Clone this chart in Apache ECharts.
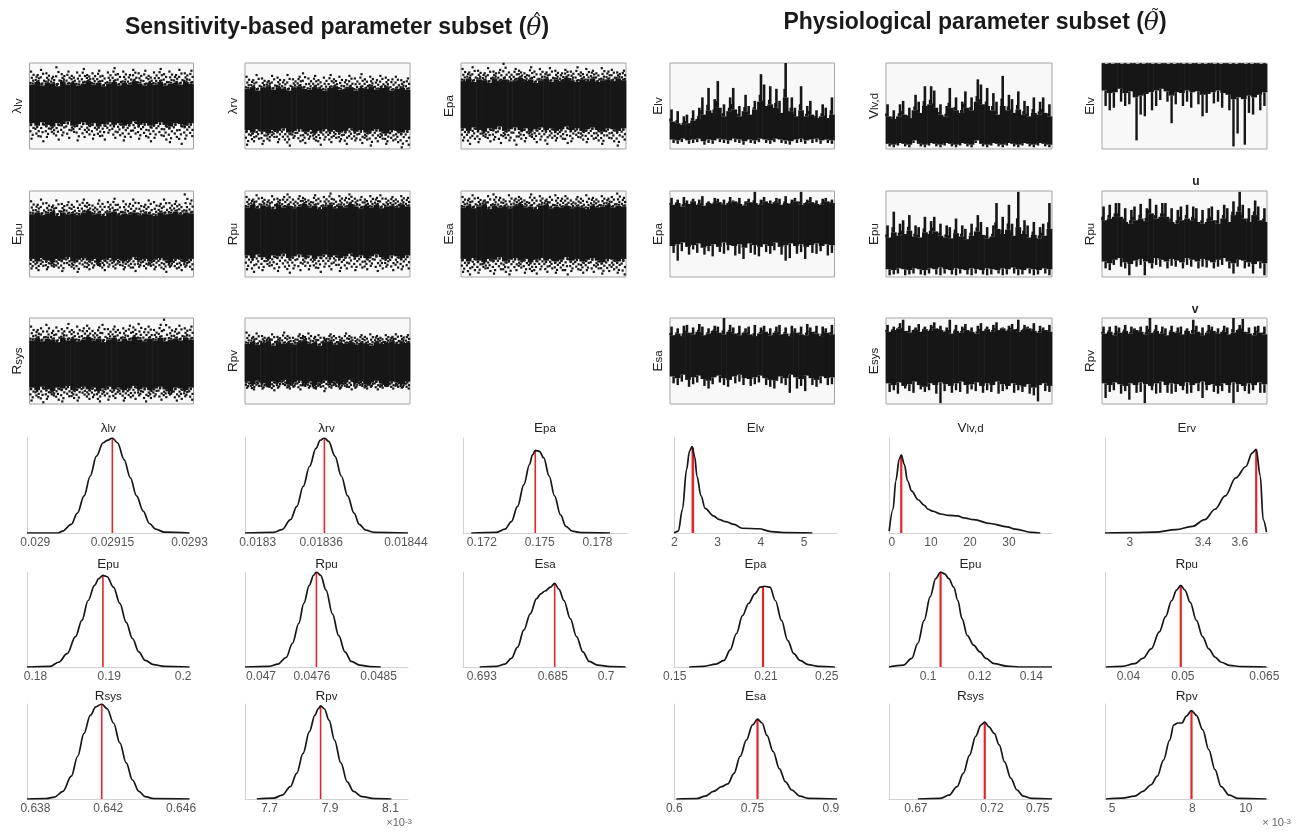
<!DOCTYPE html>
<html><head><meta charset="utf-8">
<script src="https://cdn.jsdelivr.net/npm/echarts@6/dist/echarts.min.js"></script>
<style>html,body{margin:0;padding:0;background:#fff}#c{width:1307px;height:832px}</style>
</head><body><div id="c"></div>
<script>
// ================= DATA =================
// MCMC trace envelopes, 32 bins each, % of panel height: [coreLo, coreHi, outLo, outHi]
const trLamLv = [
 [30,27,31,28,26,30,29,32,27,29,31,28,30,26,29,31,28,30,27,29,32,28,30,27,29,31,28,26,30,29,27,30],
 [75,78,74,77,76,73,78,75,77,74,76,79,75,77,73,76,78,74,77,75,79,76,74,77,75,78,74,76,77,75,78,76],
 [12,15,9,14,18,11,16,13,20,10,14,17,12,15,11,19,13,16,10,14,18,12,15,9,13,16,11,8,14,6,12,15],
 [90,86,92,88,84,95,87,90,85,89,93,86,88,91,85,89,94,87,90,86,92,88,91,85,89,93,87,90,86,92,88,91]];
const trLamRv = [
 [22,19,23,20,18,22,21,24,19,21,23,20,22,18,21,23,20,22,19,21,24,20,22,19,21,23,20,18,22,21,19,22],
 [70,72,68,71,73,69,72,70,68,71,73,70,69,72,70,68,71,73,69,70,72,68,71,70,73,69,71,72,68,70,71,69],
 [5,9,12,6,10,14,8,11,4,13,9,7,12,10,5,11,8,13,9,6,12,10,7,11,4,9,12,6,10,8,2,5],
 [84,80,86,82,79,85,83,80,86,81,84,88,82,85,80,83,86,81,84,80,85,82,87,81,84,80,85,83,81,84,80,82]];
const trEpaL = [
 [24,21,25,22,20,24,23,26,21,23,25,22,24,20,23,25,22,24,21,23,26,22,24,21,23,25,22,20,24,23,21,24],
 [79,82,78,81,80,77,82,79,81,78,80,83,79,81,77,80,82,78,81,79,83,80,78,81,79,82,78,80,81,79,82,80],
 [10,6,12,8,14,9,11,7,13,10,5,12,9,14,8,11,6,13,10,12,7,9,14,11,8,12,10,6,13,9,4,11],
 [93,89,95,91,88,94,90,92,99,89,93,91,88,95,90,93,89,94,91,88,92,90,95,89,93,91,88,94,90,92,89,91]];
const trEpuL = [
 [21,18,22,19,17,21,20,23,18,20,22,19,21,17,20,22,19,21,18,20,23,19,21,18,20,22,19,17,21,20,18,21],
 [73,75,72,74,76,71,75,73,74,72,75,77,73,74,71,75,76,72,74,73,75,72,74,73,71,75,73,74,76,73,75,74],
 [10,8,13,9,12,11,7,14,10,6,12,9,11,13,8,12,10,14,9,11,7,12,10,13,9,11,6,12,10,8,12,9],
 [88,84,90,86,83,89,85,87,84,88,90,86,83,89,85,87,91,84,88,85,90,86,84,89,87,85,90,86,88,84,96,89]];
const trRpuL = [
 [25,22,26,23,21,25,24,27,22,24,26,23,25,21,24,26,23,25,22,24,27,23,25,22,24,26,23,21,25,24,22,25],
 [81,84,80,83,82,79,84,81,83,80,82,85,81,83,79,82,84,80,83,81,85,82,80,83,81,84,80,82,83,81,84,82],
 [9,6,11,8,13,10,7,12,5,10,8,13,9,11,6,12,9,14,7,10,12,8,11,9,13,7,10,12,8,11,9,10],
 [93,90,95,92,89,94,91,93,96,90,94,92,89,95,91,93,97,90,94,92,96,91,93,90,94,92,95,91,93,90,94,92]];
const trEsaL = [
 [21,18,22,19,17,21,20,23,18,20,22,19,21,17,20,22,19,21,18,20,23,19,21,18,20,22,19,17,21,20,18,21],
 [81,83,80,82,84,79,83,81,82,80,83,85,81,82,79,83,84,80,82,81,83,80,82,81,79,83,81,82,84,81,83,82],
 [6,3,8,5,10,7,4,9,6,3,8,11,5,7,4,9,6,10,5,8,3,7,9,5,8,6,10,4,7,9,5,3],
 [93,91,95,92,89,94,96,92,90,95,91,93,89,96,92,94,90,93,95,91,94,89,93,91,95,92,90,94,91,93,97,92]];
const trRsysL = [
 [19,16,20,17,15,19,18,21,16,18,20,17,19,15,18,20,17,19,16,18,21,17,19,16,18,20,17,15,19,18,16,19],
 [74,77,73,76,75,72,77,74,76,73,75,78,74,76,72,75,77,73,76,74,78,75,73,76,74,77,73,75,76,74,77,75],
 [4,8,2,6,10,5,3,9,7,4,11,6,8,3,10,5,7,12,4,8,6,10,3,7,9,5,8,11,4,6,9,5],
 [90,86,88,92,85,89,87,93,86,90,88,91,85,89,92,87,90,86,88,91,89,93,87,90,86,92,98,89,87,91,88,90]];
const trRpvL = [
 [26,23,27,24,22,26,25,28,23,25,27,24,26,22,25,27,24,26,23,25,28,24,26,23,25,27,24,22,26,25,23,26],
 [70,72,69,71,73,68,72,70,71,69,72,74,70,71,68,72,73,69,71,70,72,69,71,70,68,72,70,71,73,70,72,71],
 [19,17,21,18,20,16,19,22,18,20,17,21,19,18,20,15,19,21,18,20,17,19,21,18,20,17,19,21,18,20,19,18],
 [83,78,82,79,77,81,78,83,79,77,81,79,82,78,80,77,81,79,78,82,79,77,80,78,81,79,77,80,78,81,79,80]];
const trElv = [
 [11,10,12,10,11,12,9,11,10,12,11,10,12,11,9,11,10,12,11,10,12,11,10,9,11,12,10,11,12,10,11,10],
 [32,30,28,30,33,35,40,45,42,48,38,44,46,38,44,40,46,55,50,52,48,42,60,44,38,45,38,40,36,38,36,40],
 [7,6,8,6,7,8,5,7,6,8,7,6,8,7,5,7,6,8,7,6,8,7,6,5,7,8,6,7,8,6,7,6],
 [46,44,38,40,45,48,60,71,58,79,52,60,71,50,63,50,56,87,75,73,70,56,100,60,48,73,50,56,45,52,48,60]];
const trVlvd = [
 [6,5,7,6,5,10,6,5,7,6,5,7,6,5,7,6,5,10,6,5,7,6,5,7,6,5,7,6,5,7,6,5],
 [38,35,38,40,36,45,42,50,52,48,40,38,48,45,42,48,45,55,52,50,45,40,50,45,42,46,40,38,42,40,42,38],
 [3,2,4,3,2,7,3,2,4,3,2,4,3,2,4,3,2,7,3,2,4,3,2,4,3,2,4,3,2,4,3,2],
 [52,45,52,56,48,63,55,73,73,68,52,50,71,60,55,67,60,81,75,71,65,55,85,63,58,67,56,50,60,55,60,52]];
const trErv = [
 [68,65,66,70,65,67,60,62,64,66,68,70,67,62,66,65,68,66,67,63,64,66,68,65,63,58,60,58,62,60,63,66],
 [99,99,99,99,99,99,99,99,99,99,99,99,99,99,99,99,99,99,99,99,99,99,99,99,99,99,99,99,99,99,99,99],
 [50,45,48,55,50,52,10,40,38,45,50,57,55,30,52,50,55,48,52,38,42,53,55,48,45,3,18,5,42,40,45,50],
 [100,100,100,100,100,100,100,100,100,100,100,100,100,100,100,100,100,100,100,100,100,100,100,100,100,100,100,100,100,100,100,100]];
const trEpaR = [
 [36,38,40,35,37,39,34,36,38,35,40,37,36,38,34,39,37,35,38,36,40,35,37,39,36,38,35,37,39,36,38,37],
 [84,86,82,85,88,84,83,86,85,87,84,86,88,85,83,87,86,84,88,85,87,84,86,85,88,84,86,87,85,84,88,86],
 [28,19,30,26,32,28,26,30,24,29,27,31,25,27,21,28,26,24,29,27,31,26,19,22,27,29,21,28,27,30,25,28],
 [92,90,93,89,91,90,94,88,92,91,90,93,89,92,88,91,99,90,93,89,92,91,94,90,92,99,90,93,89,91,92,90]];
const trEpuR = [
 [9,8,10,9,8,10,9,8,10,9,11,9,8,10,9,8,10,9,8,10,9,8,10,9,11,9,8,10,9,8,10,9],
 [46,52,48,50,54,47,46,52,50,53,48,46,45,51,47,44,48,53,49,45,47,56,50,55,48,58,50,46,49,45,48,56],
 [2,3,4,2,3,4,3,2,4,3,2,4,3,2,4,3,2,4,3,2,3,4,2,3,4,2,3,4,2,3,4,2],
 [60,76,62,66,72,60,58,70,65,70,62,60,58,68,60,56,62,72,64,58,60,86,70,84,62,99,66,60,64,58,62,86]];
const trRpuR = [
 [18,16,20,22,17,15,19,21,18,16,22,20,18,21,19,17,22,20,18,21,19,17,20,22,18,16,20,19,17,15,18,16],
 [66,68,70,70,64,62,66,68,65,74,68,70,70,64,62,66,68,66,64,62,64,66,62,68,64,72,76,68,64,72,66,64],
 [10,8,14,12,10,2,12,14,2,10,14,12,10,13,12,10,14,12,10,12,11,10,12,14,10,4,12,10,12,4,10,2],
 [82,84,86,86,80,78,82,85,80,91,84,86,86,80,78,82,84,82,80,78,80,82,78,84,80,88,99,84,80,89,82,80]];
const trEsaR = [
 [32,30,34,28,31,33,29,27,31,33,30,28,32,34,30,29,31,33,30,28,27,32,30,34,31,29,33,30,28,32,30,31],
 [80,82,79,83,81,84,80,82,85,83,81,84,82,80,83,81,79,82,84,80,83,81,82,79,83,81,80,84,82,79,83,81],
 [24,22,26,20,23,25,21,18,23,25,22,20,24,26,22,21,23,25,22,20,18,24,22,13,18,21,15,22,20,24,22,23],
 [90,88,91,92,89,93,90,88,91,90,100,92,89,91,88,90,92,89,91,88,90,92,89,91,88,90,93,89,91,90,88,92]];
const trEsysR = [
 [24,22,25,21,23,26,22,20,24,22,25,23,21,24,26,22,23,25,21,24,22,26,23,21,24,22,20,23,19,22,24,21],
 [84,86,88,85,83,86,84,87,85,88,86,84,82,85,83,86,84,82,85,87,84,86,88,85,87,84,86,88,85,83,86,84],
 [14,16,12,18,15,13,17,14,16,12,1,15,13,16,14,12,17,15,13,16,14,12,15,17,13,16,14,12,10,3,15,14],
 [92,90,94,98,91,89,93,90,92,95,91,89,98,92,90,93,89,91,94,90,92,95,89,91,93,98,92,90,94,91,89,92]];
const trRpvR = [
 [24,22,25,23,21,24,22,25,23,21,24,26,22,24,23,21,25,22,24,26,22,23,21,24,22,25,23,21,24,22,25,23],
 [82,84,80,83,85,82,86,84,81,83,85,82,80,84,83,81,85,82,84,80,83,85,82,84,81,83,86,84,82,80,83,81],
 [7,14,16,12,15,5,13,14,1,16,12,13,13,12,14,16,12,13,15,7,16,14,12,15,13,1,14,15,12,16,13,13],
 [90,90,91,89,92,90,88,90,91,100,92,90,88,91,89,90,88,98,91,89,92,90,88,91,89,100,92,99,89,90,91,90]];

// Marginal posterior densities (x values, relative density)
const dLamLv_x = [0.028984,0.029045,0.029053,0.029070,0.029082,0.029095,0.029107,0.029119,0.029132,0.029140,0.029150,0.029160,0.029173,0.029185,0.029197,0.029210,0.029222,0.029234,0.029251,0.0293];
const dLamLv_y = [0,0,0.02,0.09,0.21,0.39,0.6,0.81,0.95,0.975,1.0,0.95,0.77,0.58,0.39,0.23,0.1,0.04,0.01,0];
const dLamRv_x = [0.018288,0.018315,0.018323,0.018331,0.018337,0.018343,0.018349,0.018355,0.018359,0.018363,0.018367,0.018373,0.018379,0.018385,0.018391,0.018396,0.018402,0.018410,0.018442];
const dLamRv_y = [0,0.007,0.035,0.14,0.28,0.49,0.7,0.89,0.975,1.0,0.965,0.81,0.6,0.39,0.21,0.09,0.03,0.007,0];
const dEpaL_x = [0.17145,0.17276,0.17320,0.17353,0.17385,0.17418,0.17447,0.17462,0.17477,0.17499,0.17521,0.17549,0.17577,0.17608,0.17636,0.17669,0.17713,0.17865];
const dEpaL_y = [0,0.007,0.04,0.12,0.28,0.51,0.72,0.82,0.87,0.86,0.79,0.6,0.39,0.19,0.07,0.02,0.004,0];
const dEpuL_x = [0.17886,0.18200,0.18314,0.18429,0.18543,0.18629,0.18714,0.18800,0.18857,0.18914,0.18971,0.19057,0.19143,0.19229,0.19314,0.19400,0.19486,0.19600,0.19743,0.20086];
const dEpuL_y = [0,0.007,0.05,0.14,0.32,0.49,0.7,0.86,0.93,0.965,0.95,0.84,0.67,0.47,0.3,0.16,0.07,0.025,0.007,0];
const dRpuL_x = [0.046796,0.047107,0.047214,0.047321,0.047402,0.047482,0.047546,0.047616,0.047670,0.047707,0.047761,0.047830,0.047911,0.047991,0.048071,0.048152,0.048259,0.048393,0.048527];
const dRpuL_y = [0,0.007,0.03,0.1,0.25,0.46,0.67,0.86,0.965,1.0,0.965,0.81,0.56,0.33,0.16,0.06,0.02,0.004,0];
const dEsaL_x = [0.66441,0.66915,0.67153,0.67331,0.67508,0.67686,0.67864,0.68042,0.68161,0.68280,0.68434,0.68553,0.68671,0.68814,0.68992,0.69169,0.69347,0.69525,0.69763,0.70119,0.7055];
const dEsaL_y = [0,0.007,0.03,0.09,0.21,0.39,0.56,0.72,0.77,0.8,0.84,0.88,0.82,0.7,0.51,0.32,0.16,0.06,0.02,0.004,0];
const dRsysL_x = [0.637536,0.638580,0.639043,0.639507,0.639971,0.640319,0.640667,0.641014,0.641316,0.641641,0.641942,0.642290,0.642638,0.642986,0.643333,0.643681,0.644029,0.644493,0.646464];
const dRsysL_y = [0,0.003,0.02,0.08,0.24,0.45,0.69,0.88,0.97,1.0,0.95,0.8,0.59,0.38,0.2,0.08,0.025,0.004,0];
const dRpvL_x = [7.658,7.714,7.742,7.769,7.790,7.811,7.832,7.850,7.861,7.869,7.881,7.897,7.915,7.936,7.957,7.978,8.006,8.047,8.103];
const dRpvL_y = [0,0.01,0.04,0.13,0.27,0.48,0.71,0.88,0.95,0.98,0.95,0.83,0.62,0.38,0.18,0.08,0.025,0.004,0];
const dElv_x = [2.0,2.095,2.19,2.286,2.352,2.41,2.476,2.524,2.619,2.714,2.905,3.048,3.19,3.381,3.571,3.952,4.238,4.524,5.19];
const dElv_y = [0,0.02,0.25,0.67,0.86,0.91,0.8,0.6,0.39,0.26,0.18,0.14,0.12,0.09,0.05,0.045,0.015,0.005,0];
const dVlvd_x = [-0.7,0.3,1.0,1.9,2.4,3.2,4.0,5.1,6.7,8.3,9.3,10.4,12.5,14.6,16.8,18.3,21,25.2,29.5,31.6,35.8,38];
const dVlvd_y = [0.02,0.25,0.55,0.78,0.82,0.72,0.55,0.44,0.35,0.29,0.25,0.23,0.2,0.185,0.18,0.16,0.14,0.1,0.065,0.04,0.007,0];
const dErv_x = [2.865,3.027,3.139,3.252,3.342,3.409,3.465,3.521,3.578,3.634,3.667,3.690,3.712,3.728,3.746];
const dErv_y = [0,0.005,0.01,0.035,0.07,0.14,0.25,0.39,0.58,0.7,0.84,0.88,0.6,0.14,0.01];
const dEpaR_x = [0.15946,0.16892,0.17703,0.18243,0.18649,0.19054,0.19459,0.19865,0.20270,0.20622,0.20892,0.21270,0.21622,0.22027,0.22432,0.22838,0.23243,0.23784,0.24459,0.25541];
const dEpaR_y = [0,0.007,0.03,0.07,0.18,0.35,0.54,0.67,0.77,0.84,0.85,0.84,0.7,0.49,0.28,0.14,0.07,0.025,0.007,0];
const dEpuR_x = [0.0848,0.0904,0.0936,0.0960,0.0984,0.1008,0.1029,0.1048,0.1064,0.1080,0.1099,0.1115,0.1131,0.1152,0.1176,0.1200,0.1224,0.1256,0.1304,0.1352,0.1480];
const dEpuR_y = [0,0.02,0.09,0.25,0.49,0.74,0.93,1.0,0.98,0.93,0.84,0.7,0.51,0.33,0.23,0.16,0.09,0.035,0.01,0,0];
const dRpuR_x = [0.03583,0.03886,0.04114,0.04265,0.04417,0.04568,0.04682,0.04795,0.04886,0.04962,0.05038,0.05136,0.05250,0.05364,0.05477,0.05591,0.05705,0.05856,0.06083,0.06538];
const dRpuR_y = [0,0.007,0.035,0.09,0.19,0.37,0.53,0.7,0.81,0.86,0.81,0.68,0.49,0.32,0.19,0.105,0.05,0.018,0.003,0];
const dEsaR_x = [0.6039,0.6434,0.6592,0.6750,0.6908,0.7026,0.7145,0.7263,0.7382,0.7500,0.7595,0.7682,0.7776,0.7895,0.8013,0.8132,0.8250,0.8408,0.8566,0.9118];
const dEsaR_y = [0,0.004,0.03,0.08,0.13,0.16,0.27,0.45,0.62,0.78,0.84,0.8,0.67,0.5,0.32,0.18,0.095,0.03,0.007,0];
const dRsysR_x = [0.67136,0.68626,0.69168,0.69710,0.70117,0.70523,0.70930,0.71282,0.71526,0.71797,0.72149,0.72474,0.72827,0.73233,0.73640,0.74046,0.74588,0.75943];
const dRsysR_y = [0,0.007,0.04,0.13,0.27,0.46,0.66,0.78,0.81,0.76,0.69,0.57,0.39,0.22,0.095,0.03,0.007,0];
const dRpvR_x = [4.769,5.385,5.846,6.154,6.462,6.692,6.923,7.154,7.308,7.462,7.615,7.769,7.969,8.154,8.385,8.615,8.846,9.077,9.385,9.692,10.769];
const dRpvR_y = [0,0.01,0.03,0.08,0.15,0.24,0.41,0.62,0.78,0.8,0.8,0.87,0.93,0.88,0.73,0.52,0.31,0.13,0.04,0.007,0];

// MAP estimates (red lines): [value, density at value]
const mapLamLv = [0.02915, 1.0], mapLamRv = [0.018363, 1.0], mapEpaL = [0.17477, 0.87];
const mapEpuL = [0.18914, 0.965], mapRpuL = [0.047707, 1.0], mapEsaL = [0.68553, 0.88];
const mapRsysL = [0.641641, 1.0], mapRpvL = [7.869, 0.98];
const mapElv = [2.43, 0.9], mapVlvd = [2.4, 0.82], mapErv = [3.69, 0.88];
const mapEpaR = [0.2081, 0.85], mapEpuR = [0.1048, 1.0], mapRpuR = [0.04962, 0.86];
const mapEsaR = [0.7595, 0.84], mapRsysR = [0.71526, 0.81], mapRpvR = [7.969, 0.93];

// Tick values and tick labels
const tkLamLv = [0.029, 0.02915, 0.0293], lbLamLv = ['0.029', '0.02915', '0.0293'];
const tkLamRv = [0.0183, 0.01836, 0.01844], lbLamRv = ['0.0183', '0.01836', '0.01844'];
const tkEpaL = [0.172, 0.175, 0.178], lbEpaL = ['0.172', '0.175', '0.178'];
const tkEpuL = [0.18, 0.19, 0.2], lbEpuL = ['0.18', '0.19', '0.2'];
const tkRpuL = [0.047, 0.04765, 0.0485], lbRpuL = ['0.047', '0.0476', '0.0485'];
const tkEsaL = [0.665, 0.685, 0.7], lbEsaL = ['0.693', '0.685', '0.7'];
const tkRsysL = [0.638, 0.642, 0.646], lbRsysL = ['0.638', '0.642', '0.646'];
const tkRpvL = [7.7, 7.9, 8.1], lbRpvL = ['7.7', '7.9', '8.1'];
const tkElv = [2, 3, 4, 5], lbElv = ['2', '3', '4', '5'];
const tkVlvd = [0, 10, 20, 30], lbVlvd = ['0', '10', '20', '30'];
const tkErv = [3, 3.4, 3.6], lbErv = ['3', '3.4', '3.6'];
const tkEpaR = [0.15, 0.21, 0.25], lbEpaR = ['0.15', '0.21', '0.25'];
const tkEpuR = [0.1, 0.12, 0.14], lbEpuR = ['0.1', '0.12', '0.14'];
const tkRpuR = [0.04, 0.05, 0.065], lbRpuR = ['0.04', '0.05', '0.065'];
const tkEsaR = [0.6, 0.75, 0.9], lbEsaR = ['0.6', '0.75', '0.9'];
const tkRsysR = [0.67, 0.72, 0.75], lbRsysR = ['0.67', '0.72', '0.75'];
const tkRpvR = [5, 8, 10], lbRpvR = ['5', '8', '10'];

// ================= LAYOUT =================
const FONT = '"Liberation Sans", Arial, Helvetica, sans-serif';
const traceCols = [[29.5,193.5],[245,410],[461,626],[670,834.5],[886,1052],[1102,1267]];
const traceRows = [[63,149],[191,277],[318,404]];
const densCols = [[27,189.5],[245,408],[463,627],[674,837],[889,1052],[1105,1268.5]];
const densRows = [[438,533],[572,667],[704,799]];

const traces = [
 {d:trLamLv,c:0,r:0,lab:['λ','lv']},{d:trLamRv,c:1,r:0,lab:['λ','rv']},{d:trEpaL,c:2,r:0,lab:['E','pa']},
 {d:trEpuL,c:0,r:1,lab:['E','pu']},{d:trRpuL,c:1,r:1,lab:['R','pu']},{d:trEsaL,c:2,r:1,lab:['E','sa']},
 {d:trRsysL,c:0,r:2,lab:['R','sys']},{d:trRpvL,c:1,r:2,lab:['R','pv']},
 {d:trElv,c:3,r:0,lab:['E','lv'],spiky:true},{d:trVlvd,c:4,r:0,lab:['V','lv,d'],spiky:true},{d:trErv,c:5,r:0,lab:['E','lv'],spiky:true},
 {d:trEpaR,c:3,r:1,lab:['E','pa'],spiky:true},{d:trEpuR,c:4,r:1,lab:['E','pu'],spiky:true},{d:trRpuR,c:5,r:1,lab:['R','pu'],spiky:true},
 {d:trEsaR,c:3,r:2,lab:['E','sa'],spiky:true},{d:trEsysR,c:4,r:2,lab:['E','sys'],spiky:true},{d:trRpvR,c:5,r:2,lab:['R','pv'],spiky:true}
];
const dens = [
 {x:dLamLv_x,y:dLamLv_y,m:mapLamLv,tk:tkLamLv,lb:lbLamLv,min:0.028984,max:0.0293,c:0,r:0,t:['λ','lv']},
 {x:dLamRv_x,y:dLamRv_y,m:mapLamRv,tk:tkLamRv,lb:lbLamRv,min:0.018288,max:0.018442,c:1,r:0,t:['λ','rv']},
 {x:dEpaL_x,y:dEpaL_y,m:mapEpaL,tk:tkEpaL,lb:lbEpaL,min:0.17102,max:0.17953,c:2,r:0,t:['E','pa']},
 {x:dEpuL_x,y:dEpuL_y,m:mapEpuL,tk:tkEpuL,lb:lbEpuL,min:0.17886,max:0.20086,c:0,r:1,t:['E','pu']},
 {x:dRpuL_x,y:dRpuL_y,m:mapRpuL,tk:tkRpuL,lb:lbRpuL,min:0.046796,max:0.048875,c:1,r:1,t:['R','pu']},
 {x:dEsaL_x,y:dEsaL_y,m:mapEsaL,tk:tkEsaL,lb:lbEsaL,min:0.6597,max:0.7059,c:2,r:1,t:['E','sa']},
 {x:dRsysL_x,y:dRsysL_y,m:mapRsysL,tk:tkRsysL,lb:lbRsysL,min:0.637536,max:0.646464,c:0,r:2,t:['R','sys']},
 {x:dRpvL_x,y:dRpvL_y,m:mapRpvL,tk:tkRpvL,lb:lbRpvL,min:7.619,max:8.158,c:1,r:2,t:['R','pv']},
 {x:dElv_x,y:dElv_y,m:mapElv,tk:tkElv,lb:lbElv,min:1.995,max:5.76,c:3,r:0,t:['E','lv'],rw:2.6},
 {x:dVlvd_x,y:dVlvd_y,m:mapVlvd,tk:tkVlvd,lb:lbVlvd,min:-0.74,max:41,c:4,r:0,t:['V','lv,d'],rw:2.2},
 {x:dErv_x,y:dErv_y,m:mapErv,tk:tkErv,lb:lbErv,min:2.865,max:3.757,c:5,r:0,t:['E','rv'],rw:2.2},
 {x:dEpaR_x,y:dEpaR_y,m:mapEpaR,tk:tkEpaR,lb:lbEpaR,min:0.1495,max:0.2568,c:3,r:1,t:['E','pa'],rw:2.2},
 {x:dEpuR_x,y:dEpuR_y,m:mapEpuR,tk:tkEpuR,lb:lbEpuR,min:0.0848,max:0.148,c:4,r:1,t:['E','pu'],rw:2.2},
 {x:dRpuR_x,y:dRpuR_y,m:mapRpuR,tk:tkRpuR,lb:lbRpuR,min:0.03568,max:0.06576,c:5,r:1,t:['R','pu'],rw:2.2},
 {x:dEsaR_x,y:dEsaR_y,m:mapEsaR,tk:tkEsaR,lb:lbEsaR,min:0.5995,max:0.9118,c:3,r:2,t:['E','sa'],rw:2.2},
 {x:dRsysR_x,y:dRsysR_y,m:mapRsysR,tk:tkRsysR,lb:lbRsysR,min:0.6524,max:0.7594,c:4,r:2,t:['R','sys'],rw:2.2},
 {x:dRpvR_x,y:dRpvR_y,m:mapRpvR,tk:tkRpvR,lb:lbRpvR,min:4.738,max:10.846,c:5,r:2,t:['R','pv'],rw:2.2}
];

// ================= BUILD =================
const grids=[], xAxes=[], yAxes=[], series=[], graphic=[];
let gi = 0;
const INK = '#161616';
const richLab = {m:{fontSize:13.5,fontFamily:FONT,fill:'#222',color:'#222',verticalAlign:'bottom'},
                 s:{fontSize:11.5,fontFamily:FONT,fill:'#222',color:'#222',verticalAlign:'bottom'}};
// render-only placement pattern of sparse dots inside a bin
const DOTX = [[-0.32,0.22,-0.05,0.3,-0.2],[0.25,-0.28,0.32,-0.12,0.1],[0.02,0.34,-0.3,0.15,-0.25]];
const DOTF = [0.12,0.3,0.52,0.75,1.0];

traces.forEach(p => {
  const [x0,x1] = traceCols[p.c], [y0,y1] = traceRows[p.r];
  grids.push({left:x0,top:y0,width:x1-x0,height:y1-y0,show:true,backgroundColor:'#f8f8f8',borderColor:'#a3a3a3',borderWidth:1});
  const n = p.d[0].length;
  xAxes.push({gridIndex:gi,type:'value',min:0,max:n,show:false});
  yAxes.push({gridIndex:gi,type:'value',min:0,max:100,axisLine:{show:false},axisTick:{show:false},axisLabel:{show:false},splitLine:{show:false},
    name:`{m|${p.lab[0]}}{s|${p.lab[1]}}`,nameLocation:'middle',nameRotate:90,nameGap:5,
    nameTextStyle:{color:'#222',fontFamily:FONT,rich:richLab}});
  const data = p.d[0].map((v,i)=>[i+0.5,p.d[0][i],p.d[1][i],p.d[2][i],p.d[3][i]]);
  const spiky = !!p.spiky;
  series.push({type:'custom',xAxisIndex:gi,yAxisIndex:gi,data,silent:true,animation:false,clip:false,
    renderItem:(params,api)=>{
      const x = api.value(0), w = api.size([1,0])[0];
      const cl = api.coord([x,api.value(1)]), ch = api.coord([x,api.value(2)]);
      const ol = api.coord([x,api.value(3)]), oh = api.coord([x,api.value(4)]);
      const px = cl[0];
      const k = params.dataIndex % 3;
      const kids = [{type:'rect',shape:{x:px-w/2-0.3,y:ch[1],width:w+0.6,height:cl[1]-ch[1]},style:{fill:INK}}];
      if (spiky) {
        const xs = px + (k-1)*w*0.2;
        kids.push({type:'rect',shape:{x:xs-1.3,y:oh[1],width:2.6,height:ch[1]-oh[1]},style:{fill:INK}});
        kids.push({type:'rect',shape:{x:xs-w*0.45,y:ch[1]-(ch[1]-oh[1])*0.25,width:w*0.5,height:(ch[1]-oh[1])*0.25},style:{fill:INK}});
        kids.push({type:'rect',shape:{x:px-1.2-(k-1)*w*0.2,y:cl[1],width:2.4,height:ol[1]-cl[1]},style:{fill:INK}});
      } else {
        kids.push({type:'rect',shape:{x:px-w*(0.1+0.15*k),y:ch[1]-(ch[1]-oh[1])*0.16,width:w*0.45,height:(ch[1]-oh[1])*0.16},style:{fill:INK}});
        kids.push({type:'rect',shape:{x:px-w*(0.4-0.15*k),y:cl[1],width:w*0.45,height:(ol[1]-cl[1])*0.16},style:{fill:INK}});
        DOTF.forEach((f,j)=>{
          const yu = ch[1] + (oh[1]-ch[1])*f, yl = cl[1] + (ol[1]-cl[1])*f;
          kids.push({type:'rect',shape:{x:px+DOTX[k][j]*w-1.1,y:yu-1.1,width:2.2,height:2.2},style:{fill:INK}});
          kids.push({type:'rect',shape:{x:px-DOTX[(k+1)%3][j]*w-1.1,y:yl-1.1,width:2.2,height:2.2},style:{fill:INK}});
        });
      }
      return {type:'group',children:kids};
    }});
  gi++;
});

graphic.push({type:'text',x:1196,y:182,style:{text:'u',fontSize:12,fontWeight:'bold',fontFamily:FONT,fill:'#222',align:'center',verticalAlign:'middle'}});
graphic.push({type:'text',x:1195,y:310,style:{text:'v',fontSize:12,fontWeight:'bold',fontFamily:FONT,fill:'#222',align:'center',verticalAlign:'middle'}});

dens.forEach(p => {
  const [x0,x1] = densCols[p.c], [y0,y1] = densRows[p.r];
  grids.push({left:x0,top:y0,width:x1-x0,height:y1-y0});
  const lab = v => { let bi=0, bd=Infinity; p.tk.forEach((t,i)=>{const d=Math.abs(t-v); if(d<bd){bd=d;bi=i;}}); return p.lb[bi]; };
  xAxes.push({gridIndex:gi,type:'value',min:p.min,max:p.max,
    axisLine:{show:true,onZero:false,lineStyle:{color:'#d2d2d2',width:1}},axisTick:{show:false},splitLine:{show:false},
    axisLabel:{customValues:p.tk,formatter:lab,color:'#555',fontSize:12,fontFamily:FONT,margin:4,showMinLabel:true,showMaxLabel:true,hideOverlap:false}});
  yAxes.push({gridIndex:gi,type:'value',min:0,max:1,axisLine:{show:true,onZero:false,lineStyle:{color:'#d2d2d2',width:1}},axisTick:{show:false},axisLabel:{show:false},splitLine:{show:false}});
  series.push({type:'line',xAxisIndex:gi,yAxisIndex:gi,data:[[p.m[0],0],[p.m[0],p.m[1]]],symbol:'none',
    lineStyle:{color:'#e4252c',width:p.rw||1.6},z:2,animation:false,silent:true});
  series.push({type:'line',xAxisIndex:gi,yAxisIndex:gi,data:p.x.map((v,i)=>[v,p.y[i]]),symbol:'none',
    smooth:0.35,smoothMonotone:'x',lineStyle:{color:INK,width:1.7},z:3,animation:false,silent:true});
  const ty = [428,564,696][p.r];
  graphic.push({type:'text',x:(x0+x1)/2,y:ty,style:{text:`{m|${p.t[0]}}{s|${p.t[1]}}`,rich:richLab,align:'center',verticalAlign:'middle'}});
  gi++;
});

// exponent labels
const richExp = {a:{fontSize:11,fontFamily:FONT,fill:'#666',verticalAlign:'bottom'},b:{fontSize:8,fontFamily:FONT,fill:'#666',verticalAlign:'top'}};
graphic.push({type:'text',x:412,y:823,style:{text:'{a|×10}{b|-3}',rich:richExp,align:'right',verticalAlign:'middle'}});
graphic.push({type:'text',x:1291,y:823,style:{text:'{a|× 10}{b|-3}',rich:richExp,align:'right',verticalAlign:'middle'}});

// main titles
const TFS = 23;
const richTitle = {t:{fontSize:TFS,fontWeight:'bold',fontFamily:FONT,fill:'#1a1a1a'},
                   h:{fontSize:TFS+2,fontStyle:'italic',fontFamily:'"DejaVu Serif", serif',fill:'#1a1a1a'}};
graphic.push({type:'text',x:337,y:28,style:{text:'{t|Sensitivity-based parameter subset (}{h|θ}{t|)}',rich:richTitle,align:'center',verticalAlign:'middle'}});
graphic.push({type:'text',x:975,y:23,style:{text:'{t|Physiological parameter subset (}{h|θ}{t|)}',rich:richTitle,align:'center',verticalAlign:'middle'}});
// accent marks over theta
graphic.push({type:'text',x:537,y:24,style:{text:'ˆ',fontSize:20,fontFamily:'"DejaVu Serif", serif',fill:'#1a1a1a',align:'center',verticalAlign:'middle'}});
graphic.push({type:'text',x:1155,y:17,style:{text:'˜',fontSize:18,fontFamily:'"DejaVu Serif", serif',fill:'#1a1a1a',align:'center',verticalAlign:'middle'}});

const chart = echarts.init(document.getElementById('c'), null, {renderer:'canvas', width:1307, height:832});
chart.setOption({animation:false,backgroundColor:'#ffffff',grid:grids,xAxis:xAxes,yAxis:yAxes,series,graphic});
</script>
</body></html>
